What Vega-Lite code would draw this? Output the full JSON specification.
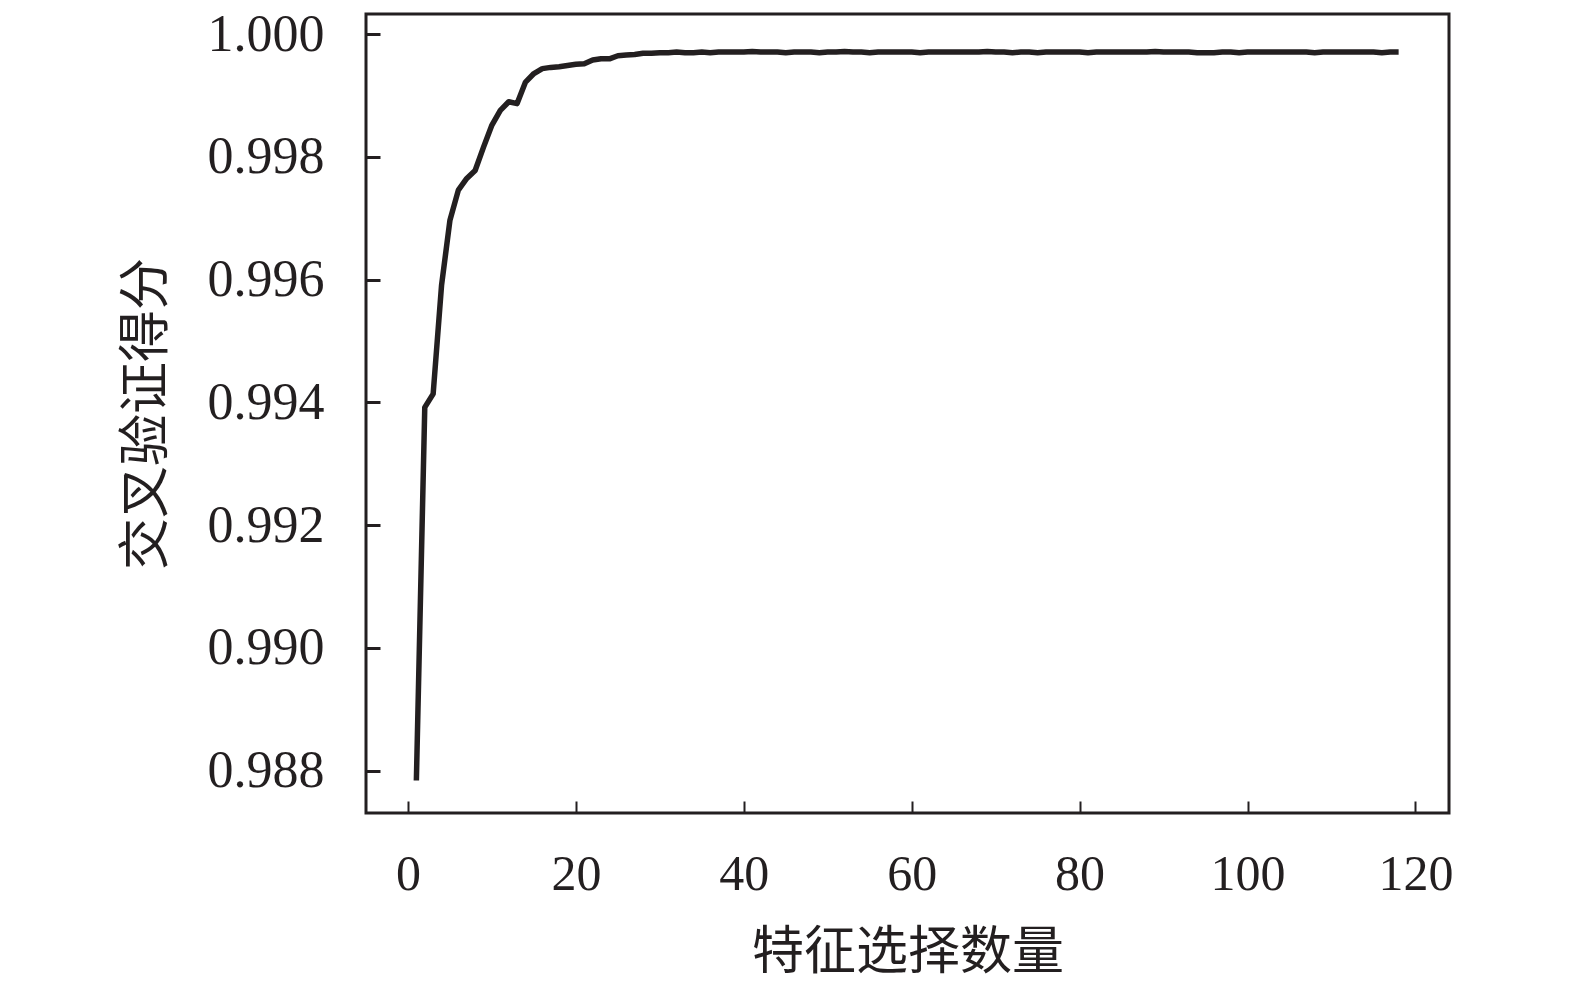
{
  "$schema": "https://vega.github.io/schema/vega-lite/v6.json",
  "width": 1083,
  "height": 799,
  "autosize": {"type": "none"},
  "padding": {"left": 366, "top": 14, "right": 126, "bottom": 170},
  "background": "white",
  "config": {
    "view": {"stroke": "#231f20", "strokeWidth": 3},
    "axis": {
      "grid": false,
      "domain": false,
      "labelFont": "Liberation Serif",
      "labelFontSize": 50,
      "labelColor": "#231f20",
      "titleFont": "Noto Sans CJK SC",
      "titleFontSize": 52,
      "titleFontWeight": "normal",
      "titleColor": "#231f20",
      "tickColor": "#231f20"
    }
  },
  "data": {
    "values": [
      {"n": 1, "score": 0.98784},
      {"n": 2, "score": 0.99392},
      {"n": 3, "score": 0.99414},
      {"n": 4, "score": 0.99591},
      {"n": 5, "score": 0.99697},
      {"n": 6, "score": 0.99746},
      {"n": 7, "score": 0.99765},
      {"n": 8, "score": 0.99778},
      {"n": 9, "score": 0.99816},
      {"n": 10, "score": 0.99852},
      {"n": 11, "score": 0.99876},
      {"n": 12, "score": 0.99890},
      {"n": 13, "score": 0.99887},
      {"n": 14, "score": 0.99922},
      {"n": 15, "score": 0.99936},
      {"n": 16, "score": 0.99944},
      {"n": 17, "score": 0.99946},
      {"n": 18, "score": 0.99947},
      {"n": 19, "score": 0.99949},
      {"n": 20, "score": 0.99951},
      {"n": 21, "score": 0.99952},
      {"n": 22, "score": 0.99958},
      {"n": 23, "score": 0.99960},
      {"n": 24, "score": 0.99960},
      {"n": 25, "score": 0.99965},
      {"n": 26, "score": 0.99966},
      {"n": 27, "score": 0.99967},
      {"n": 28, "score": 0.99969},
      {"n": 29, "score": 0.99969},
      {"n": 30, "score": 0.99970},
      {"n": 31, "score": 0.99970},
      {"n": 32, "score": 0.99971},
      {"n": 33, "score": 0.99970},
      {"n": 34, "score": 0.99970},
      {"n": 35, "score": 0.99971},
      {"n": 36, "score": 0.99970},
      {"n": 37, "score": 0.99971},
      {"n": 38, "score": 0.99971},
      {"n": 39, "score": 0.99971},
      {"n": 40, "score": 0.99971},
      {"n": 41, "score": 0.99972},
      {"n": 42, "score": 0.99971},
      {"n": 43, "score": 0.99971},
      {"n": 44, "score": 0.99971},
      {"n": 45, "score": 0.99970},
      {"n": 46, "score": 0.99971},
      {"n": 47, "score": 0.99971},
      {"n": 48, "score": 0.99971},
      {"n": 49, "score": 0.99970},
      {"n": 50, "score": 0.99971},
      {"n": 51, "score": 0.99971},
      {"n": 52, "score": 0.99972},
      {"n": 53, "score": 0.99971},
      {"n": 54, "score": 0.99971},
      {"n": 55, "score": 0.99970},
      {"n": 56, "score": 0.99971},
      {"n": 57, "score": 0.99971},
      {"n": 58, "score": 0.99971},
      {"n": 59, "score": 0.99971},
      {"n": 60, "score": 0.99971},
      {"n": 61, "score": 0.99970},
      {"n": 62, "score": 0.99971},
      {"n": 63, "score": 0.99971},
      {"n": 64, "score": 0.99971},
      {"n": 65, "score": 0.99971},
      {"n": 66, "score": 0.99971},
      {"n": 67, "score": 0.99971},
      {"n": 68, "score": 0.99971},
      {"n": 69, "score": 0.99972},
      {"n": 70, "score": 0.99971},
      {"n": 71, "score": 0.99971},
      {"n": 72, "score": 0.99970},
      {"n": 73, "score": 0.99971},
      {"n": 74, "score": 0.99971},
      {"n": 75, "score": 0.99970},
      {"n": 76, "score": 0.99971},
      {"n": 77, "score": 0.99971},
      {"n": 78, "score": 0.99971},
      {"n": 79, "score": 0.99971},
      {"n": 80, "score": 0.99971},
      {"n": 81, "score": 0.99970},
      {"n": 82, "score": 0.99971},
      {"n": 83, "score": 0.99971},
      {"n": 84, "score": 0.99971},
      {"n": 85, "score": 0.99971},
      {"n": 86, "score": 0.99971},
      {"n": 87, "score": 0.99971},
      {"n": 88, "score": 0.99971},
      {"n": 89, "score": 0.99972},
      {"n": 90, "score": 0.99971},
      {"n": 91, "score": 0.99971},
      {"n": 92, "score": 0.99971},
      {"n": 93, "score": 0.99971},
      {"n": 94, "score": 0.99970},
      {"n": 95, "score": 0.99970},
      {"n": 96, "score": 0.99970},
      {"n": 97, "score": 0.99971},
      {"n": 98, "score": 0.99971},
      {"n": 99, "score": 0.99970},
      {"n": 100, "score": 0.99971},
      {"n": 101, "score": 0.99971},
      {"n": 102, "score": 0.99971},
      {"n": 103, "score": 0.99971},
      {"n": 104, "score": 0.99971},
      {"n": 105, "score": 0.99971},
      {"n": 106, "score": 0.99971},
      {"n": 107, "score": 0.99971},
      {"n": 108, "score": 0.99970},
      {"n": 109, "score": 0.99971},
      {"n": 110, "score": 0.99971},
      {"n": 111, "score": 0.99971},
      {"n": 112, "score": 0.99971},
      {"n": 113, "score": 0.99971},
      {"n": 114, "score": 0.99971},
      {"n": 115, "score": 0.99971},
      {"n": 116, "score": 0.99970},
      {"n": 117, "score": 0.99971},
      {"n": 118, "score": 0.99971}
    ]
  },
  "mark": {"type": "line", "color": "#231f20", "strokeWidth": 5.5, "strokeJoin": "round"},
  "encoding": {
    "x": {
      "field": "n",
      "type": "quantitative",
      "scale": {"domain": [-5, 124], "nice": false, "zero": false},
      "axis": {
        "title": "特征选择数量",
        "values": [0, 20, 40, 60, 80, 100, 120],
        "format": "d",
        "tickSize": -12,
        "tickWidth": 2,
        "labelPadding": 48,
        "titlePadding": 28
      }
    },
    "y": {
      "field": "score",
      "type": "quantitative",
      "scale": {"domain": [0.98731, 1.00033], "nice": false, "zero": false},
      "axis": {
        "title": "交叉验证得分",
        "values": [0.988, 0.99, 0.992, 0.994, 0.996, 0.998, 1.0],
        "format": ".3f",
        "tickSize": -14,
        "tickWidth": 3,
        "labelFontSize": 52,
        "labelPadding": 56,
        "titlePadding": 34
      }
    }
  }
}
